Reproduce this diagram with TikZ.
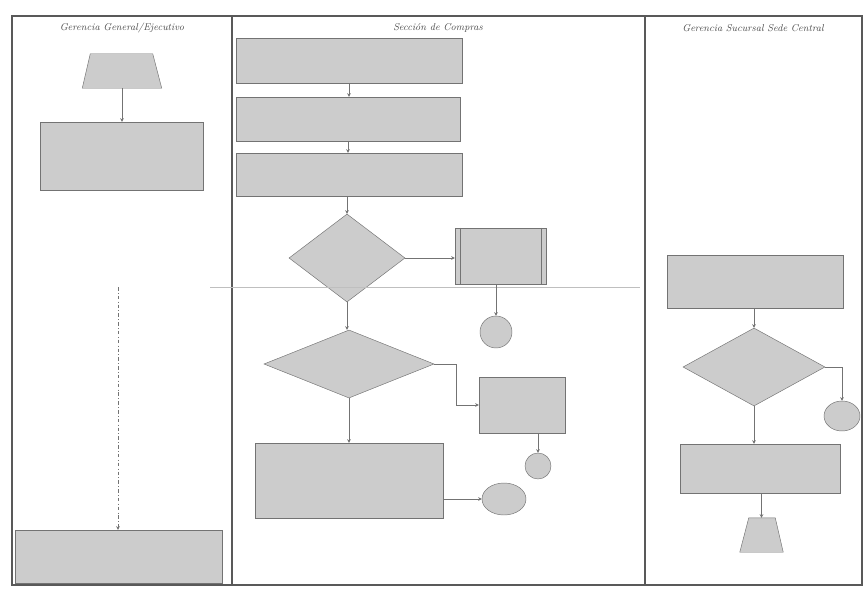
\documentclass[tikz,border=0pt]{standalone}
\usetikzlibrary{shapes.geometric,arrows.meta}
\begin{document}
\begin{tikzpicture}[x=0.03cm,y=-0.03cm,
  frame/.style={draw=black!65,line width=0.9pt},
  box/.style={draw=black!55,fill=black!20,rectangle,inner sep=0pt},
  dec/.style={draw=black!55,fill=black!20,diamond,inner sep=0pt},
  conn/.style={draw=black!55,fill=black!20,circle,inner sep=0pt},
  oval/.style={draw=black!55,fill=black!20,ellipse,inner sep=0pt},
  ghost/.style={rectangle,inner sep=0pt},
  arr/.style={draw=black!55,line width=0.5pt,-{Stealth[length=3pt,width=3pt]}},
  faint/.style={draw=black!25,line width=0.4pt},
  head/.style={font=\fontsize{8.5}{9}\selectfont\itshape,text=black!70}]
\useasboundingbox (0,0) rectangle (864,589);
\fill[white] (0,0) rectangle (864,589);
% frame and lanes
\draw[frame] (12,16) rectangle (862,585);
\draw[frame] (232,16) -- (232,585);
\draw[frame] (645,16) -- (645,585);
\node[head] (h1) at (122,28) {Gerencia General/Ejecutivo};
\node[head] (h2) at (438,28) {Sección de Compras};
\node[head] (h3) at (753,28) {Gerencia Sucursal Sede Central};
% left lane
\node[ghost,minimum width=2.37cm,minimum height=1.02cm] (T1) at (122,71) {};
\filldraw[draw=black!55,fill=black!20] (T1.south west) -- ([xshift=0.24cm]T1.north west) -- ([xshift=-0.27cm]T1.north east) -- (T1.south east) -- cycle;
\node[box,minimum width=4.89cm,minimum height=2.04cm] (L1) at (121.5,156) {};
\node[box,minimum width=6.21cm,minimum height=1.59cm] (L2) at (118.5,556.5) {};
\coordinate (dtop) at (118,287);
% middle lane
\node[box,minimum width=6.78cm,minimum height=1.35cm] (M1) at (349,60.5) {};
\node[box,minimum width=6.72cm,minimum height=1.32cm] (M2) at (348,119) {};
\node[box,minimum width=6.78cm,minimum height=1.29cm] (M3) at (349,174.5) {};
\node[dec,minimum width=3.48cm,minimum height=2.64cm] (D1) at (347,258) {};
\node[box,minimum width=2.73cm,minimum height=1.68cm] (P1) at (500.5,256) {};
\draw[black!55] ([xshift=0.15cm]P1.north west) -- ([xshift=0.15cm]P1.south west);
\draw[black!55] ([xshift=-0.15cm]P1.north east) -- ([xshift=-0.15cm]P1.south east);
\node[conn,minimum size=0.96cm] (C1) at (496,332) {};
\node[dec,minimum width=5.1cm,minimum height=2.04cm] (D2) at (349,364) {};
\node[box,minimum width=2.58cm,minimum height=1.68cm] (B2) at (522,405) {};
\node[conn,minimum size=0.78cm] (C2) at (538,466) {};
\node[box,minimum width=5.64cm,minimum height=2.25cm] (B4) at (349,480.5) {};
\node[oval,minimum width=1.32cm,minimum height=0.96cm] (E1) at (504,499) {};
% right lane
\node[box,minimum width=5.28cm,minimum height=1.59cm] (R1) at (755,281.5) {};
\node[dec,minimum width=4.26cm,minimum height=2.34cm] (D3) at (754,367) {};
\node[oval,minimum width=1.08cm,minimum height=0.9cm] (E2) at (842,416) {};
\node[box,minimum width=4.8cm,minimum height=1.47cm] (R2) at (760,468.5) {};
\node[ghost,minimum width=1.29cm,minimum height=1.02cm] (T2) at (761.5,535) {};
\filldraw[draw=black!55,fill=black!20] (T2.south west) -- ([xshift=0.27cm]T2.north west) -- ([xshift=-0.24cm]T2.north east) -- (T2.south east) -- cycle;
% faint scan line
\coordinate (fa) at (210,287);
\coordinate (fb) at (640,287);
\draw[faint] (fa) -- (fb);
% connectors
\draw[arr] (T1.south) -- (T1.south |- L1.north);
\draw[arr] (M1.south) -- (M1.south |- M2.north);
\draw[arr] (M2.south) -- (M2.south |- M3.north);
\draw[arr] (M3.south -| D1.north) -- (D1.north);
\draw[arr] (D1.east) -- (D1.east -| P1.west);
\draw[arr] (P1.south -| C1.north) -- (C1.north);
\draw[arr] (D1.south) -- (D1.south |- D2.north);
\draw[arr] (D2.east) -- ++(22,0) |- (B2.west);
\draw[arr] (B2.south -| C2.north) -- (C2.north);
\draw[arr] (D2.south) -- (D2.south |- B4.north);
\draw[arr] (B4.east |- E1.west) -- (E1.west);
\draw[arr] (R1.south -| D3.north) -- (D3.north);
\draw[arr] (D3.south) -- (D3.south |- R2.north);
\draw[arr] (D3.east) -| (E2.north);
\draw[arr] (R2.south -| T2.north) -- (T2.north);
\draw[arr,dash dot] (dtop) -- (dtop |- L2.north);
\end{tikzpicture}
\end{document}
